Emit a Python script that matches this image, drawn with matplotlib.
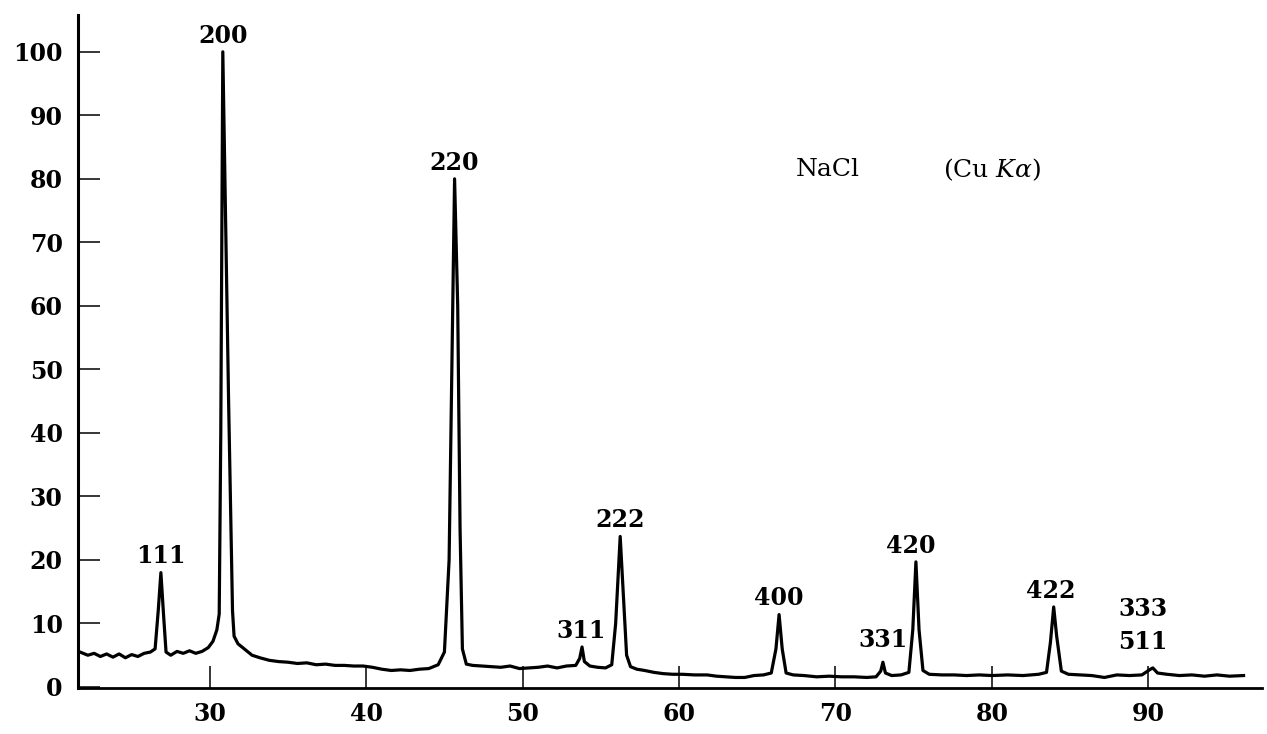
import numpy as np
import matplotlib
matplotlib.use("Agg")
import matplotlib.pyplot as plt

# NaCl powder pattern (2theta in degrees, relative intensity)
two_theta = [21.7, 22.2, 22.6, 23.0, 23.4, 23.8, 24.2, 24.6, 25.0, 25.4, 25.8, 26.2,
             26.5, 26.7, 26.87, 27.05, 27.2, 27.5, 27.9, 28.3, 28.7, 29.1, 29.5, 29.9,
             30.2, 30.45, 30.6, 30.7, 30.83, 31.0, 31.2, 31.45, 31.55, 31.8, 32.2, 32.7,
             33.2, 33.8, 34.4, 35.0, 35.6, 36.2, 36.8, 37.4, 38.0, 38.6, 39.2, 39.8,
             40.4, 41.0, 41.6, 42.2, 42.8, 43.4, 44.0, 44.6, 45.0, 45.3, 45.65, 45.85,
             46.0, 46.15, 46.4, 46.8, 47.4, 48.0, 48.6, 49.2, 49.8, 50.4, 51.0, 51.6,
             52.2, 52.8, 53.4, 53.65, 53.8, 53.95, 54.3, 54.8, 55.3, 55.7, 55.95, 56.24,
             56.45, 56.65, 56.9, 57.3, 57.8, 58.4, 59.0, 59.6, 60.2, 61.0, 61.8, 62.4,
             63.0, 63.6, 64.2, 64.8, 65.4, 65.9, 66.2, 66.4, 66.6, 66.85, 67.3, 68.0,
             68.8, 69.6, 70.4, 71.2, 72.0, 72.6, 72.9, 73.04, 73.2, 73.6, 74.2, 74.7,
             74.95, 75.15, 75.35, 75.6, 76.0, 76.8, 77.6, 78.4, 79.2, 80.0, 81.0, 82.0,
             83.0, 83.5, 83.75, 83.96, 84.15, 84.45, 84.9, 85.6, 86.4, 87.2, 88.0, 88.8,
             89.6, 90.15, 90.3, 90.6, 91.2, 92.0, 92.8, 93.6, 94.4, 95.2, 96.1]
intensity = [5.5, 5.0, 5.3, 4.8, 5.2, 4.7, 5.2, 4.6, 5.1, 4.8, 5.3, 5.5,
             6.0, 12.0, 18.0, 11.0, 5.5, 5.0, 5.6, 5.3, 5.7, 5.3, 5.6, 6.2,
             7.2, 9.0, 11.5, 40.0, 100.0, 75.0, 45.0, 12.0, 8.0, 6.8, 6.0, 5.0,
             4.6, 4.2, 4.0, 3.9, 3.7, 3.8, 3.5, 3.6, 3.4, 3.4, 3.3, 3.3,
             3.1, 2.8, 2.6, 2.7, 2.6, 2.8, 2.9, 3.5, 5.5, 20.0, 80.0, 60.0,
             25.0, 6.0, 3.6, 3.4, 3.3, 3.2, 3.1, 3.3, 2.9, 3.0, 3.1, 3.3,
             3.0, 3.3, 3.4, 4.5, 6.3, 4.0, 3.3, 3.1, 3.0, 3.5, 10.0, 23.7,
             14.0, 5.0, 3.2, 2.8, 2.6, 2.3, 2.1, 2.0, 2.0, 1.9, 1.9, 1.7,
             1.6, 1.5, 1.5, 1.8, 1.9, 2.2, 6.0, 11.4, 6.0, 2.2, 1.9, 1.8,
             1.6, 1.7, 1.6, 1.6, 1.5, 1.6, 2.5, 3.9, 2.2, 1.8, 1.9, 2.3,
             9.0, 19.7, 9.0, 2.6, 2.0, 1.9, 1.9, 1.8, 1.9, 1.8, 1.9, 1.8,
             2.0, 2.3, 7.0, 12.6, 8.0, 2.5, 2.0, 1.9, 1.8, 1.5, 1.9, 1.8,
             1.9, 2.8, 3.0, 2.2, 2.0, 1.8, 1.9, 1.7, 1.9, 1.7, 1.8]

# reflections and where their labels sit
hkl = ["111", "200", "220", "311", "222", "400", "331", "420", "422", "333\n511"]
peak_x = [26.87, 30.83, 45.65, 53.8, 56.24, 66.4, 73.04, 75.15, 83.96, 90.2]
peak_y = [18.0, 100.0, 80.0, 6.3, 23.7, 11.4, 3.9, 19.7, 12.6, 3.0]
label_dx = [0, 0, 0, -1, 0, 0, 0, -3.5, -2, -6]
label_dy = [3, 3, 3, 3, 3, 3, 7, 3, 3, 10]

xticks = [30, 40, 50, 60, 70, 80, 90]
yticks = list(range(0, 101, 10))

plt.rcParams['font.family'] = ['DejaVu Serif']
plt.rcParams['mathtext.fontset'] = 'dejavuserif'

fig = plt.figure(figsize=(12.67, 7.34), dpi=100)
ax = fig.add_axes([78/1267, 46/734, 1184/1267, 673/734])

ax.plot(two_theta, intensity, color='black', lw=2.3, solid_joinstyle='round')

for lab, px, py, dx, dy in zip(hkl, peak_x, peak_y, label_dx, label_dy):
    ax.annotate(lab, (px, py), xytext=(dx, dy), textcoords='offset points',
                ha='center', va='bottom', fontsize=17, fontweight='bold',
                linespacing=1.5)

ax.text(69.5, 81.4, "NaCl", ha='center', va='center', fontsize=18)
ax.text(80.0, 81.4, r"(Cu $K\alpha$)", ha='center', va='center', fontsize=18)

ax.set_xlim(21.57, 97.28)
ax.set_ylim(-0.16, 105.8)
ax.set_xticks(xticks)
ax.set_yticks(yticks)
ax.tick_params(direction='in', length=16, width=1.1, labelsize=17, color='black')
ax.tick_params(axis='y', pad=11)
ax.tick_params(axis='x', pad=10)
for lbl in ax.get_xticklabels() + ax.get_yticklabels():
    lbl.set_fontweight('bold')

for side in ['top', 'right']:
    ax.spines[side].set_visible(False)
ax.spines['left'].set_linewidth(2.2)
ax.spines['bottom'].set_linewidth(2.0)

fig.savefig("out.png", dpi=100, facecolor='white')
